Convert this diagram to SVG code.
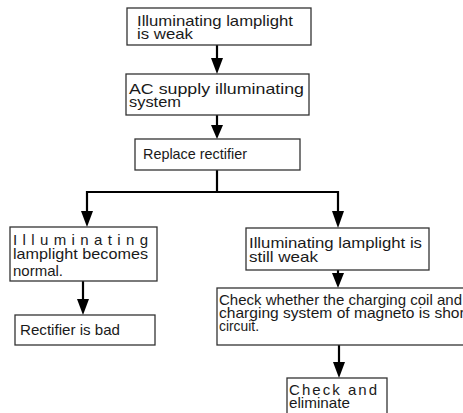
<svg xmlns="http://www.w3.org/2000/svg" width="463" height="413" viewBox="0 0 463 413">
<style>
.box{fill:#fff;stroke:#333;stroke-width:1.3}
.t{font-family:"Liberation Sans",Arial,sans-serif;font-size:15px;fill:#1a1a1a}
.c{fill:none;stroke:#000;stroke-width:2.2}
.h{fill:#000}
</style>
<rect width="463" height="413" fill="#fff"/>
<g id="connectors">
<line class="c" x1="217" y1="45" x2="217" y2="58"/>
<path class="h" d="M211,58 L223,58 L217,74 Z"/>
<line class="c" x1="217" y1="115" x2="217" y2="126"/>
<path class="h" d="M211,125 L223,125 L217,139 Z"/>
<polyline class="c" points="217,170 217,192"/>
<polyline class="c" points="87,212 87,192 338,192 338,212"/>
<path class="h" d="M81,211 L93,211 L87,227 Z"/>
<path class="h" d="M332,211 L344,211 L338,228 Z"/>
<line class="c" x1="83" y1="281" x2="83" y2="300"/>
<path class="h" d="M77,299 L89,299 L83,315 Z"/>
<line class="c" x1="338" y1="270" x2="338" y2="274"/>
<path class="h" d="M332,273 L344,273 L338,288 Z"/>
<line class="c" x1="339" y1="345" x2="339" y2="363"/>
<path class="h" d="M333,362 L345,362 L339,378 Z"/>
</g>
<g id="n1">
<rect class="box" x="127" y="8" width="184" height="37"/>
<text class="t" x="137" y="26" textLength="156" lengthAdjust="spacingAndGlyphs">Illuminating lamplight</text>
<text class="t" x="137" y="39" textLength="56" lengthAdjust="spacingAndGlyphs">is weak</text>
</g>
<g id="n2">
<rect class="box" x="126" y="74" width="183" height="41"/>
<text class="t" x="129" y="94" textLength="175" lengthAdjust="spacingAndGlyphs">AC supply illuminating</text>
<text class="t" x="129" y="107" textLength="52" lengthAdjust="spacingAndGlyphs">system</text>
</g>
<g id="n3">
<rect class="box" x="135" y="139" width="165" height="31"/>
<text class="t" x="143" y="159" textLength="104" lengthAdjust="spacingAndGlyphs">Replace rectifier</text>
</g>
<g id="n4">
<rect class="box" x="10" y="227" width="147" height="54"/>
<text class="t" x="13" y="245" textLength="135" lengthAdjust="spacing">Illuminating</text>
<text class="t" x="13" y="259" textLength="135" lengthAdjust="spacingAndGlyphs">lamplight becomes</text>
<text class="t" x="13" y="276" textLength="50" lengthAdjust="spacingAndGlyphs">normal.</text>
</g>
<g id="n5">
<rect class="box" x="15" y="315" width="140" height="30"/>
<text class="t" x="20" y="335" textLength="100" lengthAdjust="spacingAndGlyphs">Rectifier is bad</text>
</g>
<g id="n6">
<rect class="box" x="246" y="228" width="183" height="42"/>
<text class="t" x="249" y="248" textLength="173" lengthAdjust="spacingAndGlyphs">Illuminating lamplight is</text>
<text class="t" x="249" y="262" textLength="69" lengthAdjust="spacingAndGlyphs">still weak</text>
</g>
<g id="n7">
<rect class="box" x="217" y="288" width="260" height="57"/>
<text class="t" x="219" y="305" textLength="243" lengthAdjust="spacingAndGlyphs">Check whether the charging coil and</text>
<text class="t" x="219" y="318" textLength="250" lengthAdjust="spacingAndGlyphs">charging system of magneto is short</text>
<text class="t" x="219" y="331" textLength="40" lengthAdjust="spacingAndGlyphs">circuit.</text>
</g>
<g id="n8">
<rect class="box" x="287" y="378" width="100" height="45"/>
<text class="t" x="289" y="395" textLength="88" lengthAdjust="spacing">Check and</text>
<text class="t" x="289" y="408" textLength="61" lengthAdjust="spacingAndGlyphs">eliminate</text>
</g>
</svg>
